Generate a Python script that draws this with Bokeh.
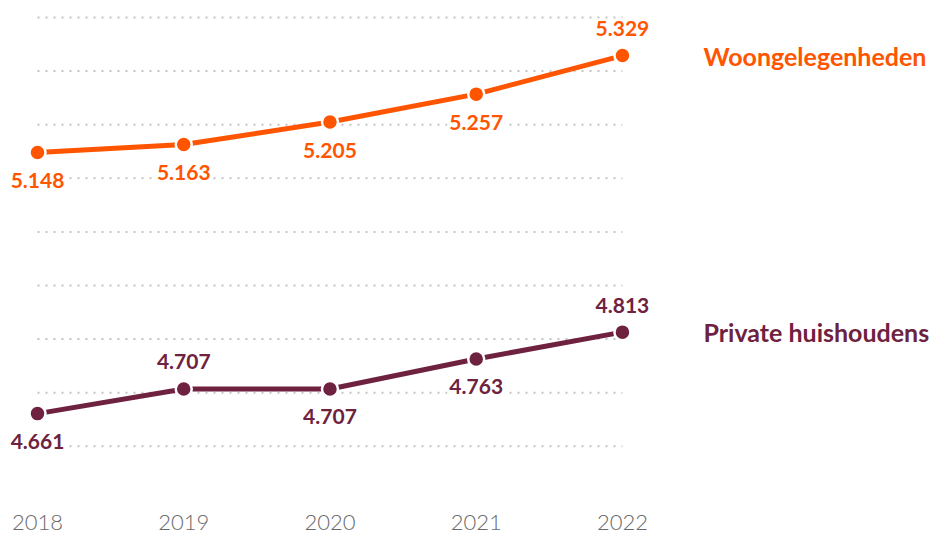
from bokeh.plotting import figure
from bokeh.models import ColumnDataSource, Range1d, FixedTicker
from bokeh.core.properties import value
from bokeh.embed import file_html
from bokeh.resources import INLINE

years = [2018, 2019, 2020, 2021, 2022]
woon = [5.148, 5.163, 5.205, 5.257, 5.329]
priv = [4.661, 4.707, 4.707, 4.763, 4.813]
woon_labels = ["5.148", "5.163", "5.205", "5.257", "5.329"]
priv_labels = ["4.661", "4.707", "4.707", "4.763", "4.813"]
woon_pos = ["below", "below", "below", "below", "above"]
priv_pos = ["below", "above", "below", "below", "above"]
grid_values = [4.6, 4.7, 4.8, 4.9, 5.0, 5.1, 5.2, 5.3, 5.4]
series_names = ["Woongelegenheden", "Private huishoudens"]

ORANGE = "#ff5500"
MAROON = "#6e2240"
FONT = "Lato"

p = figure(width=933, height=536, output_backend="svg", toolbar_location=None,
           x_range=Range1d(2017.747, 2024.127), y_range=Range1d(4.4896, 5.4317),
           min_border_left=0, min_border_right=0, min_border_top=0, min_border_bottom=31,
           y_axis_location=None)
p.outline_line_color = None
p.xgrid.visible = False
p.ygrid.visible = False

ax = p.xaxis[0]
ax.ticker = FixedTicker(ticks=years)
ax.axis_line_color = None
ax.major_tick_line_color = None
ax.minor_tick_line_color = None
ax.major_label_text_font = "Lato Light"
ax.major_label_text_font_size = "22px"
ax.major_label_text_color = "#6a6a6a"
ax.major_label_standoff = 3

# dotted grid lines between first and last year
p.segment(x0=[years[0]] * len(grid_values), x1=[years[-1]] * len(grid_values),
          y0=grid_values, y1=grid_values, line_color="#c4c4c4", line_width=2,
          line_dash="2 6")

for vals, labels, pos, color, name in [
    (woon, woon_labels, woon_pos, ORANGE, series_names[0]),
    (priv, priv_labels, priv_pos, MAROON, series_names[1]),
]:
    p.line(years, vals, line_color=color, line_width=5)
    p.scatter(years, vals, size=16, fill_color=color, line_color="white", line_width=2.5)
    offs = [28 if s == "below" else -27 for s in pos]
    src = ColumnDataSource(dict(x=years, y=vals, t=labels, off=offs))
    p.text(x="x", y="y", text="t", y_offset="off", source=src,
           text_align="center", text_baseline="middle",
           text_font=value(FONT), text_font_style="bold", text_font_size="21px",
           text_color=color, background_fill_color="white", padding=2)
    p.text(x=[years[-1]], y=[vals[-1]], text=[name], x_offset=81,
           text_align="left", text_baseline="middle",
           text_font=value(FONT), text_font_style="bold", text_font_size="25px",
           text_color=color)

open("out.html", "w").write(file_html(p, INLINE))
